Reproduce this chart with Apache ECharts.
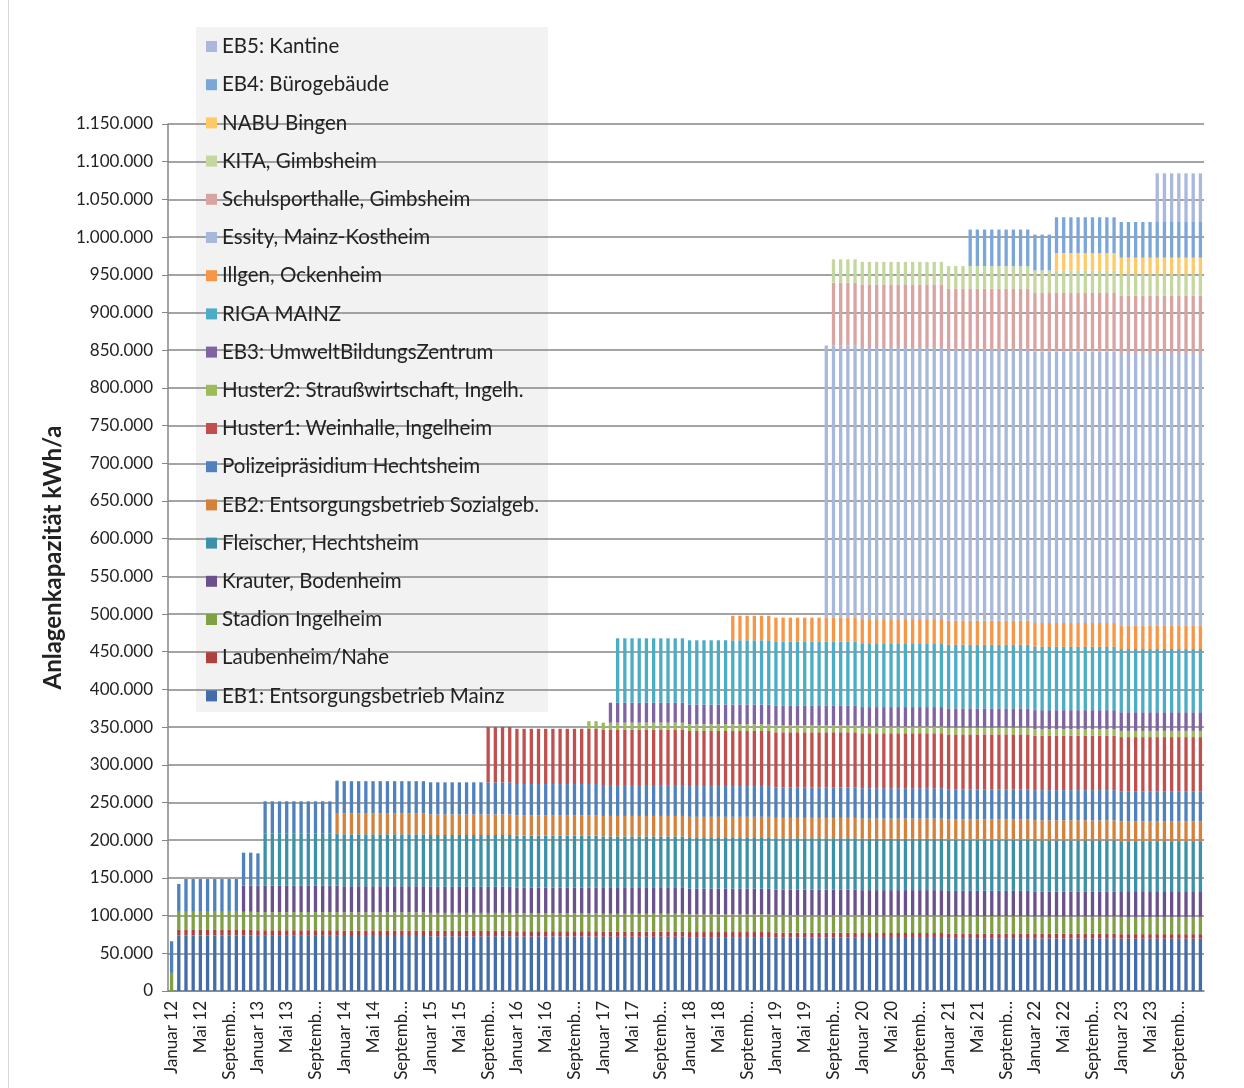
<!DOCTYPE html>
<html>
<head>
<meta charset="utf-8">
<title>Anlagenkapazität kWh/a</title>
<script src="https://cdn.jsdelivr.net/npm/echarts@6/dist/echarts.min.js"></script>
<style>
  html, body { margin: 0; padding: 0; background: #fff; }
  #chart { width: 1244px; height: 1088px; }
</style>
</head>
<body>
<div id="chart"></div>
<script>
// Kategorien: Januar 2012 bis Dezember 2023
const monthNames = ['Januar', 'Februar', 'März', 'April', 'Mai', 'Juni', 'Juli', 'August', 'September', 'Oktober', 'November', 'Dezember']
const yearLabels = ['12', '13', '14', '15', '16', '17', '18', '19', '20', '21', '22', '23']

// Werte je Anlage als [Anzahl Monate, kWh/a] hintereinander (0 = noch nicht in Betrieb)
const eb1 = [[1, 0], [11, 73500], [12, 73200], [12, 73000], [12, 72600], [12, 72300], [12, 72000], [12, 71400], [12, 70800], [12, 70400], [12, 70000], [12, 69700], [12, 69400]]
const laubenheim = [[1, 0], [11, 7500], [12, 7400], [12, 7300], [12, 7200], [12, 7000], [12, 6900], [12, 6800], [12, 6600], [12, 6500], [12, 6300], [12, 6200], [12, 6000]]
const stadion = [[24, 24000], [12, 23900], [12, 23800], [12, 23700], [12, 23600], [12, 23500], [12, 23400], [12, 23300], [12, 23200], [12, 23000], [12, 22900]]
const krauter = [[10, 0], [2, 35000], [12, 35000], [12, 34800], [12, 34600], [12, 34400], [12, 34200], [12, 34000], [12, 33800], [12, 33600], [12, 33400], [12, 33200], [12, 33000]]
const fleischer = [[13, 0], [11, 69000], [12, 68900], [12, 68700], [12, 68600], [12, 68400], [12, 68300], [12, 68100], [12, 68000], [12, 67800], [12, 67700], [12, 67500]]
const eb2 = [[23, 0], [1, 27500], [12, 27400], [12, 27300], [12, 27200], [12, 27100], [12, 27000], [12, 26900], [12, 26800], [12, 26700], [12, 26600], [12, 26500]]
const polizei = [[1, 42000], [1, 37000], [10, 43500], [12, 43000], [12, 43000], [12, 42600], [12, 41300], [12, 41000], [12, 40800], [12, 40600], [12, 40400], [12, 40200], [12, 40000], [12, 39700]]
const huster1 = [[44, 0], [4, 73400], [12, 73300], [12, 73200], [12, 73100], [12, 73000], [12, 72900], [12, 72800], [12, 72400], [12, 71800]]
const huster2 = [[58, 0], [2, 10000], [12, 9500], [12, 9000], [12, 9000], [12, 8900], [12, 8900], [12, 8500], [12, 8200]]
const eb3 = [[61, 0], [11, 26500], [12, 26000], [12, 26000], [12, 25800], [12, 25600], [12, 25200], [12, 24800]]
const riga = [[62, 0], [10, 85400], [12, 85300], [12, 85000], [12, 84700], [12, 84300], [12, 84000], [12, 83800]]
const illgen = [[78, 0], [6, 32500], [12, 32000], [12, 32000], [12, 31800], [12, 31600], [12, 31500]]
const essity = [[91, 0], [5, 361000], [12, 360800], [12, 360500], [12, 360300], [12, 360000]]
const schulsporthalle = [[92, 0], [4, 83300], [12, 83200], [12, 80000], [12, 77400], [12, 77000]]
const kita = [[92, 0], [4, 31000], [12, 29800], [12, 30000], [12, 30000], [12, 28600]]
const nabu = [[123, 0], [9, 23000], [12, 22000]]
const eb4 = [[111, 0], [9, 48500], [12, 47500], [12, 47300]]
const eb5 = [[137, 0], [7, 64500]]

const seriesNames = [
  'EB1: Entsorgungsbetrieb Mainz', 'Laubenheim/Nahe', 'Stadion Ingelheim', 'Krauter, Bodenheim',
  'Fleischer, Hechtsheim', 'EB2: Entsorgungsbetrieb Sozialgeb.', 'Polizeipräsidium Hechtsheim',
  'Huster1: Weinhalle, Ingelheim', 'Huster2: Straußwirtschaft, Ingelh.', 'EB3: UmweltBildungsZentrum',
  'RIGA MAINZ', 'Illgen, Ockenheim', 'Essity, Mainz-Kostheim', 'Schulsporthalle, Gimbsheim',
  'KITA, Gimbsheim', 'NABU Bingen', 'EB4: Bürogebäude', 'EB5: Kantine'
]
const seriesRuns = [eb1, laubenheim, stadion, krauter, fleischer, eb2, polizei, huster1, huster2,
  eb3, riga, illgen, essity, schulsporthalle, kita, nabu, eb4, eb5]
const colors = ['#426da9', '#ae403d', '#80a046', '#6a518b', '#3a91a8', '#d4823b', '#4f81bd', '#c0504d',
  '#9bbb59', '#8064a2', '#4bacc6', '#f79646', '#a8b8da', '#d9a3a2', '#c4d79e', '#ffc966', '#7aa6da', '#aab8dc']

let categories = []
yearLabels.forEach(y => monthNames.forEach(m => categories.push(m + ' ' + y)))

function expand(runs) {
  let out = []
  runs.forEach(r => {
    for (let i = 0; i < r[0]; i++) out.push(r[1] === 0 ? null : r[1])
  })
  return out
}

const chart = echarts.init(document.getElementById('chart'))
const font = 'Lato, "Open Sans", sans-serif'

chart.setOption({
  animation: false,
  color: colors,
  textStyle: { fontFamily: font },
  graphic: [
    { type: 'line', z: -10, shape: { x1: 8.5, y1: 0, x2: 8.5, y2: 1088 }, style: { stroke: '#d9d9d9', lineWidth: 1 } },
    { type: 'rect', z: -10, shape: { x: 196, y: 27, width: 352, height: 685 }, style: { fill: '#f2f2f2' } }
  ],
  grid: { left: 168, right: 40, top: 124, bottom: 97 },
  legend: {
    orient: 'vertical',
    left: 196,
    top: 27,
    padding: [9, 8, 8, 10],
    itemWidth: 11,
    itemHeight: 11,
    itemGap: 17.2,
    icon: 'rect',
    data: seriesNames.slice().reverse(),
    textStyle: { fontSize: 20.5, lineHeight: 20, color: '#222', fontFamily: font }
  },
  xAxis: {
    type: 'category',
    data: categories,
    axisLine: { lineStyle: { color: '#868686', width: 1.5 } },
    axisTick: { interval: 3, length: 5, lineStyle: { color: '#868686' } },
    axisLabel: {
      interval: 3,
      rotate: 90,
      margin: 10,
      fontSize: 17,
      color: '#222',
      formatter: v => v.length > 10 ? v.slice(0, 7) + '…' : v
    }
  },
  yAxis: {
    type: 'value',
    min: 0,
    max: 1150000,
    interval: 50000,
    name: 'Anlagenkapazität kWh/a',
    nameLocation: 'middle',
    nameGap: 100,
    nameTextStyle: { fontSize: 24, fontWeight: 'bold', color: '#222' },
    axisLine: { show: true, lineStyle: { color: '#868686', width: 1.5 } },
    axisTick: { show: true, length: 6, lineStyle: { color: '#868686' } },
    axisLabel: {
      fontSize: 17,
      margin: 15,
      color: '#222',
      formatter: v => String(v).replace(/\B(?=(\d{3})+(?!\d))/g, '.')
    },
    splitLine: { lineStyle: { color: '#868686', width: 1.5 } }
  },
  series: seriesRuns.map((runs, i) => ({
    name: seriesNames[i],
    type: 'bar',
    stack: 'total',
    barWidth: '46%',
    data: expand(runs)
  }))
})
</script>
</body>
</html>
